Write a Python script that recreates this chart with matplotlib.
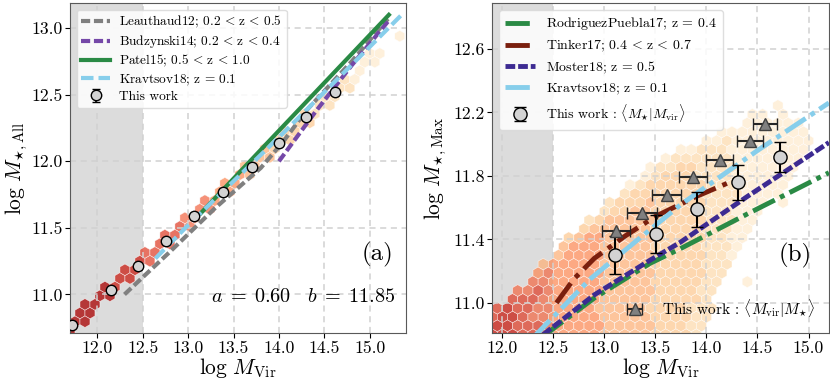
import numpy as np
import matplotlib.pyplot as plt

plt.rcParams["font.family"] = "serif"
plt.rcParams["font.serif"] = ["cmr10"]
plt.rcParams["mathtext.fontset"] = "cm"
plt.rcParams["axes.formatter.use_mathtext"] = True

# ---------------- panel (a) : total stellar mass ----------------
mvir_a = [11.72, 12.15, 12.45, 12.76, 13.07, 13.38, 13.70, 14.00, 14.30, 14.62]
mstar_all = [10.77, 11.03, 11.21, 11.40, 11.59, 11.77, 11.96, 12.14, 12.33, 12.52]
mstar_all_err = [0.02, 0.02, 0.02, 0.02, 0.02, 0.02, 0.02, 0.02, 0.02, 0.02]

leau_x = [12.30, 12.80, 13.30, 13.80, 14.05, 14.30, 14.80, 15.20]
leau_y = [11.00, 11.32, 11.65, 11.95, 12.15, 12.38, 12.75, 13.07]
budz_x = [14.00, 14.40, 14.80, 15.20]
budz_y = [12.00, 12.37, 12.72, 13.05]
patel_x = [13.14, 14.00, 15.21]
patel_y = [11.61, 12.23, 13.10]
krav_a_x = [12.64, 13.00, 13.50, 14.00, 14.50, 15.00, 15.35]
krav_a_y = [11.27, 11.52, 11.85, 12.18, 12.52, 12.86, 13.10]

# hexbin density, one string per hex row (bottom up),
# digit = colour level, '.' = empty
hex_a = [
    "9",
    "99",
    ".99",
    ".99",
    "...99",
    "...98",
    ".....88",
    ".....88",
    ".......87",
    ".......77",
    ".........77",
    ".........77",
    "...........76",
    "...........66",
    ".............66",
    ".............65",
    "...............55",
    "...............55",
    ".................54",
    ".................44",
    "...................44",
    "...................43",
    ".....................33",
    ".....................33",
    ".......................33",
    ".......................32",
    ".........................22",
    ".........................22",
    "...........................22",
    "...........................21",
    ".............................1",
    ".............................11",
    "..............................11",
    "",
    ".................................1",
]

# ---------------- panel (b) : central galaxy ----------------
mvir_b = [13.10, 13.51, 13.91, 14.31, 14.72]
mstar_max = [11.30, 11.435, 11.59, 11.76, 11.92]
mstar_max_err = [0.12, 0.12, 0.11, 0.11, 0.095]

tri_x = [13.115, 13.367, 13.61, 13.87, 14.13, 14.425, 14.575]
tri_y = [11.455, 11.567, 11.682, 11.79, 11.90, 12.018, 12.13]
tri_xerr = [0.14, 0.15, 0.14, 0.14, 0.13, 0.13, 0.115]

rp_x = [12.40, 12.90, 13.45, 13.74, 14.40, 15.20]
rp_y = [10.79, 11.03, 11.25, 11.34, 11.56, 11.82]
tinker_x = [12.53, 12.70, 12.90, 13.20, 13.50, 13.90, 14.30]
tinker_y = [11.00, 11.15, 11.28, 11.42, 11.545, 11.67, 11.78]
moster_x = [12.40, 12.90, 13.45, 13.74, 14.40, 15.20]
moster_y = [10.80, 11.05, 11.27, 11.38, 11.67, 12.01]
krav_b_x = [12.30, 12.86, 13.35, 13.75, 14.50, 15.20]
krav_b_y = [10.78, 11.15, 11.41, 11.62, 11.96, 12.26]

hex_b = [
    "888776555554444433332",
    "887776555554444433322",
    "7887665555544444333322",
    "7877665555444443333222",
    "..77765555544444333332",
    "..66765555544444333322",
    "....6655555444443333322..1",
    "....5655555444443333322",
    ".....4555554444433333222",
    "......455554444433333221",
    ".......455544444333332221",
    ".......345544444333332211",
    ".........34444443333322211",
    ".........23444443333322211",
    "...........2334433333222111",
    "...........2333433333222111.1",
    ".............2333333322221111",
    ".............1233333322211111",
    "...............123332222111111",
    "...............122332222111111",
    ".................12222221111111",
    "..................1122211111111",
    ".....................11211111111",
    "......................111111111",
    ".........................111111",
    ".........................11.1",
    "............................1",
]


def hex_cells(rows, x0, dx, y0, dy):
    xs, ys, cs = [], [], []
    for r, row in enumerate(rows):
        for c, ch in enumerate(row):
            if ch.isdigit():
                xs.append(x0 + dx * (c + 0.5 * (r % 2)))
                ys.append(y0 + dy * r)
                cs.append(int(ch))
    return np.array(xs), np.array(ys), np.array(cs, float)


def draw_hex(ax, rows, x0, dx, y0, dy):
    xs, ys, cs = hex_cells(rows, x0, dx, y0, dy)
    nx = 40
    ny = len(rows) // 2 + 2
    ax.hexbin(xs, ys, C=cs, gridsize=(nx, ny),
              extent=(x0, x0 + nx * dx, y0, y0 + ny * 2 * dy),
              reduce_C_function=np.max, cmap="OrRd", vmin=0, vmax=10,
              alpha=0.75, edgecolors="white", linewidths=0.4, zorder=1)


def style(ax, xlim, ylim, yticks):
    ax.axvspan(xlim[0], 12.5, color="#dcdcdc", zorder=0, lw=0)
    ax.set_xlim(xlim)
    ax.set_ylim(ylim)
    ax.set_xticks([12.0, 12.5, 13.0, 13.5, 14.0, 14.5, 15.0])
    ax.set_yticks(yticks)
    ax.xaxis.set_major_formatter(plt.FormatStrFormatter("%.1f"))
    ax.yaxis.set_major_formatter(plt.FormatStrFormatter("%.1f"))
    ax.tick_params(labelsize=12.7, pad=2)
    ax.grid(True, ls=(0, (4, 3)), color="0.82", lw=1.1)
    ax.set_axisbelow("line")
    ax.set_xlabel(r"$\log\, M_{\rm Vir}$", fontsize=15.5, labelpad=0)
    for s in ax.spines.values():
        s.set_color("0.35")


fig = plt.figure(figsize=(8.3, 3.83), dpi=100)

# ---- (a)
ax1 = fig.add_axes([0.0843, 0.1305, 0.405, 0.862])
draw_hex(ax1, hex_a, 11.70, 0.11, 10.73, 0.065)
ax1.plot(leau_x, leau_y, color="gray", lw=3, dashes=(2.2, 0.9),
         label=r"Leauthaud12; $0.2\,<\,{\rm z}\,<\,0.5$", zorder=3)
ax1.plot(budz_x, budz_y, color="#7548a8", lw=3, dashes=(2.2, 0.9),
         label=r"Budzynski14; $0.2\,<\,{\rm z}\,<\,0.4$", zorder=3)
ax1.plot(patel_x, patel_y, color="#2a8a45", lw=3,
         label=r"Patel15; $0.5\,<\,{\rm z}\,<\,1.0$", zorder=3)
ax1.plot(krav_a_x, krav_a_y, color="#87ceeb", lw=3, dashes=(3, 1.2),
         label=r"Kravtsov18; ${\rm z}\,=\,0.1$", zorder=3)
ax1.errorbar(mvir_a, mstar_all, yerr=mstar_all_err, fmt="o", ms=7.5,
             mfc="#d3d3d3", mec="k", mew=1, ecolor="k", elinewidth=1.2,
             capsize=3, label="This work", zorder=5)
style(ax1, (11.7, 15.4), (10.71, 13.19), [11.0, 11.5, 12.0, 12.5, 13.0])
ax1.set_ylabel(r"$\log\, M_{\star,\rm All}$", fontsize=15.5, labelpad=1)
ax1.legend(loc="upper left", fontsize=9.6, framealpha=0.85, edgecolor="0.85",
           handlelength=2.15, handletextpad=0.7, labelspacing=0.22,
           borderpad=0.35)
ax1.text(15.08, 11.3, "(a)", fontsize=18, ha="center", va="center")
ax1.text(14.27, 10.98, r"$a\;=\;0.60\quad b\;=\;11.85$", fontsize=14.5,
         ha="center", va="center")

# ---- (b)
ax2 = fig.add_axes([0.593, 0.1305, 0.4057, 0.862])
draw_hex(ax2, hex_b, 11.90, 0.10, 10.80, 0.0555)
l_rp, = ax2.plot(rp_x, rp_y, color="#2a8a45", lw=3.5, dashes=(5, 1.2, 1, 1.2),
                 label=r"RodriguezPuebla17; ${\rm z}\,=\,0.4$", zorder=3)
l_ti, = ax2.plot(tinker_x, tinker_y, color="#7a1f0e", lw=3.5,
                 dashes=(5, 1.5, 1, 1.5),
                 label=r"Tinker17; $0.4\,<\,{\rm z}\,<\,0.7$", zorder=3)
l_mo, = ax2.plot(moster_x, moster_y, color="#3d2b92", lw=3.5, dashes=(2, 0.6),
                 label=r"Moster18; ${\rm z}\,=\,0.5$", zorder=3)
l_kr, = ax2.plot(krav_b_x, krav_b_y, color="#87ceeb", lw=3.5,
                 dashes=(5, 1.2, 1, 1.2),
                 label=r"Kravtsov18; ${\rm z}\,=\,0.1$", zorder=3)
eb_c = ax2.errorbar(mvir_b, mstar_max, yerr=mstar_max_err, fmt="o", ms=9.5,
                    mfc="#d3d3d3", mec="k", mew=1, ecolor="k",
                    elinewidth=1.5, capsize=4,
                    label=r"This work : $\langle M_{\star}|M_{\rm vir}\rangle$",
                    zorder=5)
eb_t = ax2.errorbar(tri_x, tri_y, xerr=tri_xerr, fmt="^", ms=8.5,
                    mfc="#808080", mec="0.25", mew=1, ecolor="0.15",
                    elinewidth=1.5, capsize=4,
                    label=r"This work : $\langle M_{\rm vir}|M_{\star}\rangle$",
                    zorder=5)
style(ax2, (11.9, 15.2), (10.81, 12.89), [11.0, 11.4, 11.8, 12.2, 12.6])
ax2.set_ylabel(r"$\log\, M_{\star,\rm Max}$", fontsize=15.5, labelpad=3)
leg1 = ax2.legend(handles=[l_rp, l_ti, l_mo, l_kr, eb_c], loc="upper left",
                  fontsize=10, framealpha=0.85, edgecolor="0.85",
                  handlelength=2.2, handletextpad=0.8, labelspacing=0.4)
ax2.add_artist(leg1)
ax2.legend(handles=[eb_t], loc="lower right", fontsize=11, frameon=False)
ax2.text(14.87, 11.30, "(b)", fontsize=18, ha="center", va="center")

fig.savefig("out.png", dpi=100)
